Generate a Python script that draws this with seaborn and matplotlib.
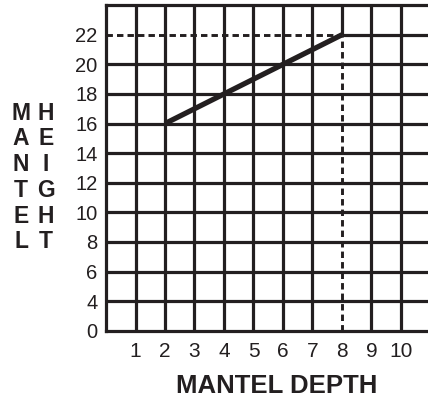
import numpy as np
import matplotlib
matplotlib.use("Agg")
import matplotlib.pyplot as plt
import seaborn as sns
import pandas as pd

# data
depth = [2, 8]
height = [16, 22]
x_ticks = list(range(1, 11))
y_ticks = list(range(2, 24, 2))
y_labels = ['0', '4', '6', '8', '10', '12', '14', '16', '18', '20', '22']
mark_x, mark_y = 8, 22

ink = '#231f20'

sns.set_style('white')
plt.rcParams['font.family'] = ['Liberation Sans', 'DejaVu Sans']

fig = plt.figure(figsize=(4.28, 3.98), dpi=100)
ax = fig.add_axes([0.2477, 0.169, 0.758, 0.818])
ax.set_xlim(0, 11)
ax.set_ylim(2, 24)

gw = 2.3
# grid, leaving room for the dashed guides
for y in y_ticks[1:]:
    if y == mark_y:
        ax.hlines(y, mark_x, 11, color=ink, lw=gw, zorder=1)
    else:
        ax.axhline(y, color=ink, lw=gw, zorder=1)
for x in x_ticks:
    if x == mark_x:
        ax.vlines(x, mark_y, 24, color=ink, lw=gw, zorder=1)
    else:
        ax.axvline(x, color=ink, lw=gw, zorder=1)

# dashed guides
ax.plot([0, mark_x], [mark_y, mark_y], color=ink, lw=2.1, ls=(0, (2.2, 1.4)), zorder=2)
ax.plot([mark_x, mark_x], [2, mark_y], color=ink, lw=2.1, ls=(0, (2.2, 1.4)), zorder=2)

df = pd.DataFrame({'depth': depth, 'height': height})
sns.lineplot(data=df, x='depth', y='height', color=ink, lw=3.8, ax=ax, zorder=3,
             solid_capstyle='butt')

ax.set_xticks(x_ticks)
ax.set_xticklabels([str(v) for v in x_ticks], fontsize=15, color=ink)
ax.set_yticks(y_ticks)
ax.set_yticklabels(y_labels, fontsize=14.5, color=ink)
ax.tick_params(length=0, pad=6)
ax.tick_params(axis='x', pad=8)
ax.set_xlabel('')
ax.set_ylabel('')

for side in ['left', 'bottom', 'top', 'right']:
    ax.spines[side].set_color(ink)
    ax.spines[side].set_linewidth(gw)

fig.text(0.647, 0.0, 'MANTEL DEPTH', ha='center', va='bottom', fontsize=18.5,
         fontweight='bold', color=ink)

# stacked vertical y label
for i, (a, b) in enumerate(zip('MANTEL', 'HEIGHT')):
    yy = 1 - (113 + i * 25.8) / 398
    fig.text(21 / 428, yy, a, ha='center', va='center', fontsize=16.5, fontweight='bold', color=ink)
    fig.text(46 / 428, yy, b, ha='center', va='center', fontsize=16.5, fontweight='bold', color=ink)

fig.savefig('out.png', dpi=100)
